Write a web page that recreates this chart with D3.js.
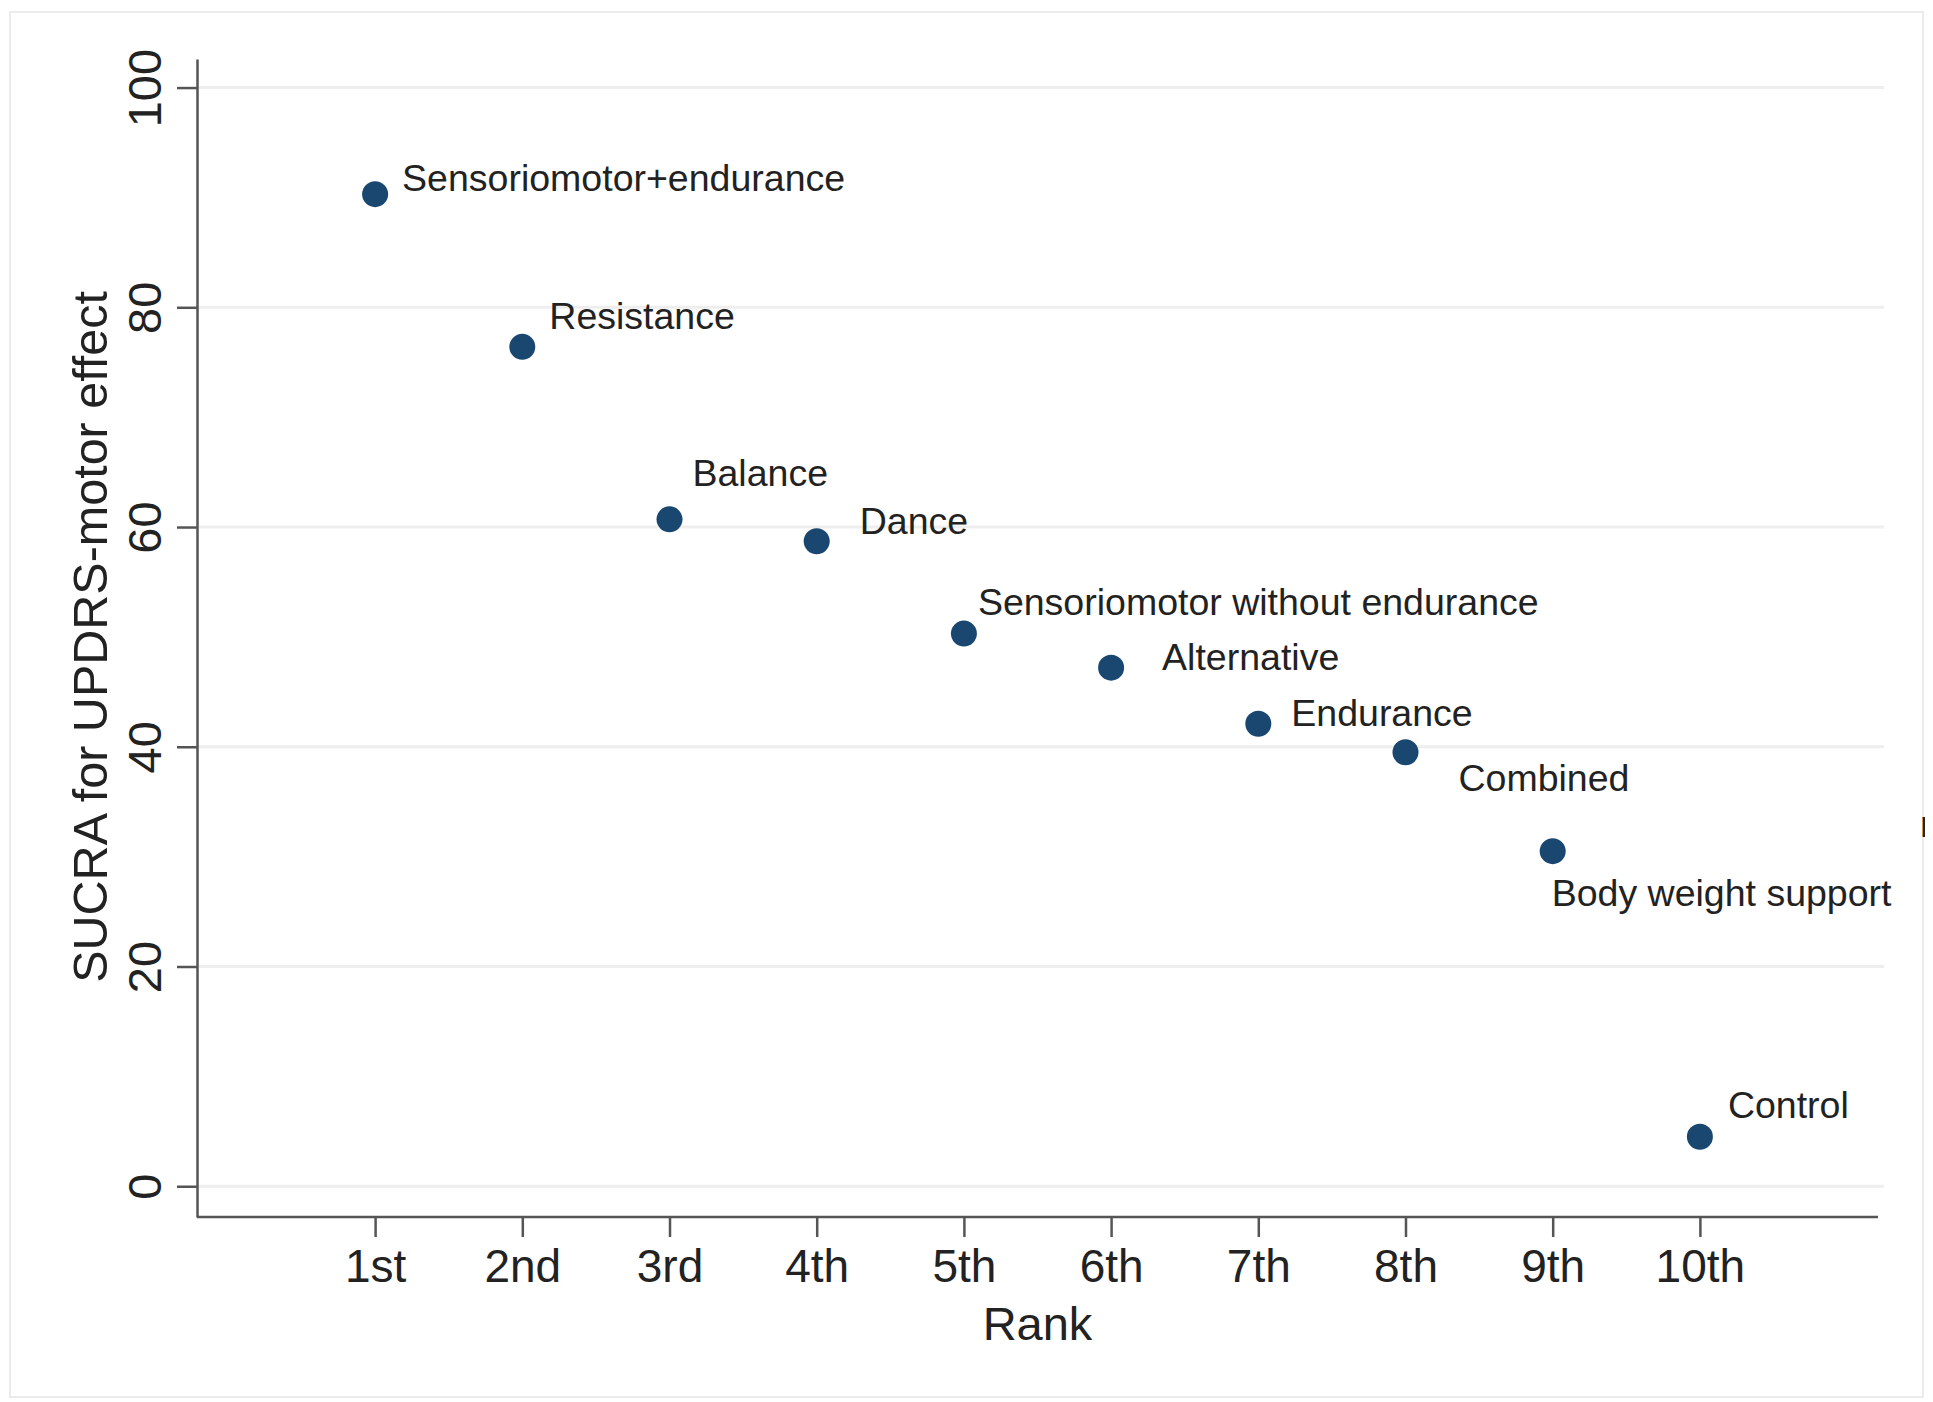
<!DOCTYPE html>
<html>
<head>
<meta charset="utf-8">
<script src="https://cdn.jsdelivr.net/npm/d3@7"></script>
<style>
  html, body { margin: 0; padding: 0; background: #ffffff; }
  svg { display: block; font-family: "Liberation Sans", Arial, Helvetica, sans-serif; }
</style>
</head>
<body>
<svg id="chart" width="1933" height="1402"></svg>
<script>
// ---- data ----
const ranks = [1, 2, 3, 4, 5, 6, 7, 8, 9, 10];
const rankLabels = ["1st", "2nd", "3rd", "4th", "5th", "6th", "7th", "8th", "9th", "10th"];
const treatments = ["Sensoriomotor+endurance", "Resistance", "Balance", "Dance",
  "Sensoriomotor without endurance", "Alternative", "Endurance", "Combined",
  "Body weight support", "Control"];
const sucra = [90.3, 76.4, 60.7, 58.7, 50.3, 47.2, 42.1, 39.5, 30.5, 4.5];
const yTicks = [0, 20, 40, 60, 80, 100];

// ---- style (label placement, px offsets from marker) ----
const labelOffsets = [[27, -16], [27, -31], [23, -46], [43, -20], [14, -32],
  [51, -11], [33, -11], [53, 26], [-1, 42], [28, -32]];

const svg = d3.select("#chart");
const W = 1933, H = 1402;

// outer frame
svg.append("rect").attr("x", 10).attr("y", 12).attr("width", W - 20).attr("height", H - 17)
  .attr("fill", "#ffffff").attr("stroke", "#ebebeb").attr("stroke-width", 2);

// clipped stray glyph at right frame edge (as in source image)
svg.append("defs").append("clipPath").attr("id", "edgeclip")
  .append("rect").attr("x", 1900).attr("y", 780).attr("width", 25).attr("height", 80);
svg.append("text").attr("clip-path", "url(#edgeclip)")
  .attr("x", 1920).attr("y", 837).attr("font-size", 37.5).attr("fill", "#222").text("r");

const plotL = 197, plotR = 1878, plotT = 59, plotB = 1217;

const x = d3.scaleLinear().domain([-0.21, 11.21]).range([plotL, plotR]);
const y = d3.scaleLinear().domain([-2.8, 102.6]).range([plotB, plotT]);

// gridlines
svg.append("g").selectAll("line").data(yTicks).join("line")
  .attr("x1", plotL).attr("x2", 1884)
  .attr("y1", d => y(d)).attr("y2", d => y(d))
  .attr("stroke", "#eeeeee").attr("stroke-width", 3);

// y axis
const yAxis = d3.axisLeft(y).tickValues(yTicks).tickSize(20).tickSizeOuter(0).tickPadding(0)
  .tickFormat(d3.format("d"));
const gy = svg.append("g").attr("transform", `translate(${plotL},0)`).call(yAxis);
gy.select(".domain").attr("stroke", "#555").attr("stroke-width", 2.5);
gy.selectAll(".tick line").attr("stroke", "#555").attr("stroke-width", 2.5);
gy.selectAll(".tick text")
  .attr("x", 0).attr("y", 0).attr("dy", 0)
  .attr("transform", "translate(-36,0) rotate(-90)")
  .attr("text-anchor", "middle")
  .attr("font-size", 47).attr("fill", "#222")
  .attr("font-family", "Liberation Sans, Arial, sans-serif");

// x axis
const xAxis = d3.axisBottom(x).tickValues(ranks).tickSize(20).tickSizeOuter(0).tickPadding(12)
  .tickFormat((d, i) => rankLabels[i]);
const gx = svg.append("g").attr("transform", `translate(0,${plotB})`).call(xAxis);
gx.select(".domain").attr("stroke", "#555").attr("stroke-width", 2.5).attr("d", `M${plotL},0H${plotR}`);
gx.selectAll(".tick line").attr("stroke", "#555").attr("stroke-width", 2.5);
gx.selectAll(".tick text").attr("font-size", 46).attr("fill", "#222").attr("dy", "0.71em")
  .attr("font-family", "Liberation Sans, Arial, sans-serif");

// axis titles
svg.append("text").attr("x", (x(1) + x(10)) / 2).attr("y", 1340)
  .attr("text-anchor", "middle").attr("font-size", 47).attr("fill", "#222").text("Rank");
svg.append("text").attr("transform", `translate(107,${(y(0) + y(100)) / 2}) rotate(-90)`)
  .attr("text-anchor", "middle").attr("font-size", 48.5).attr("fill", "#222")
  .text("SUCRA for UPDRS-motor effect");

// points
const pts = ranks.map((r, i) => ({ r, v: sucra[i], name: treatments[i], off: labelOffsets[i] }));
svg.append("g").selectAll("circle").data(pts).join("circle")
  .attr("cx", d => x(d.r)).attr("cy", d => y(d.v)).attr("r", 13)
  .attr("fill", "#1a476f");

// labels
svg.append("g").selectAll("text").data(pts).join("text")
  .attr("x", d => x(d.r) + d.off[0]).attr("y", d => y(d.v) + d.off[1])
  .attr("dominant-baseline", "central")
  .attr("font-size", 37.5).attr("fill", "#222").text(d => d.name);
</script>
</body>
</html>
